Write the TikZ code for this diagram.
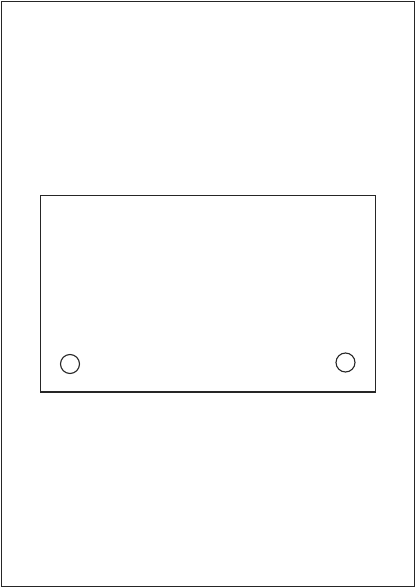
\documentclass[tikz,border=0pt]{standalone}
\begin{document}
\begin{tikzpicture}[x=1pt,y=-1pt,line width=1.1pt,
  frame/.style={draw=black!85},
  hole/.style={draw=black!85,circle,minimum size=19pt,inner sep=0pt}]
\useasboundingbox (0,0) rectangle (416,588);
\draw[frame] (1.5,1.5) rectangle (414.5,586.5);
\draw[frame] (40.5,195.5) rectangle (375.5,392);
\node[hole] (h1) at (70,364) {};
\node[hole] (h2) at (345.5,362.5) {};
\end{tikzpicture}
\end{document}
